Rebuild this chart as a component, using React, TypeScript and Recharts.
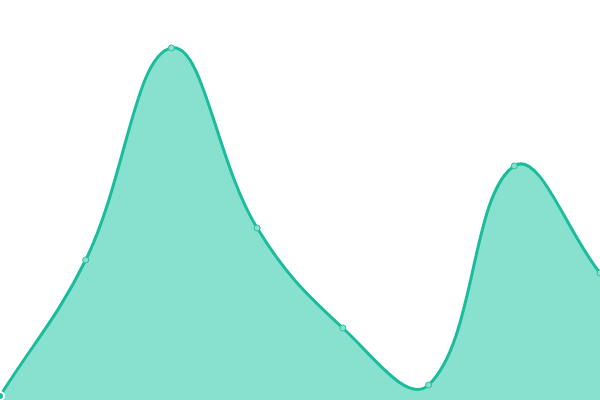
import React from "react";
import { AreaChart, Area, XAxis, YAxis } from "recharts";

const labels = ["A", "B", "C", "D", "E", "F", "G", "H"];
const values = [4, 140, 352, 172, 72, 15, 234, 127];

const data = labels.map((name, i) => ({ name, value: values[i] }));

// spline with distance-weighted control points (tension 0.4)
function splineCurve(tension: number) {
  return (ctx: any) => {
    let pts: number[][] = [];
    let line = NaN;
    const emit = () => {
      const n = pts.length;
      if (!n) return;
      if (line) ctx.lineTo(pts[0][0], pts[0][1]);
      else ctx.moveTo(pts[0][0], pts[0][1]);
      if (n === 1) return;
      const cps = pts.map((cur, i) => {
        const prev = pts[i - 1] || cur;
        const next = pts[i + 1] || cur;
        const d01 = Math.hypot(cur[0] - prev[0], cur[1] - prev[1]);
        const d12 = Math.hypot(next[0] - cur[0], next[1] - cur[1]);
        let s01 = d01 / (d01 + d12);
        let s12 = d12 / (d01 + d12);
        if (!isFinite(s01)) s01 = 0;
        if (!isFinite(s12)) s12 = 0;
        const fa = tension * s01;
        const fb = tension * s12;
        return {
          px: cur[0] - fa * (next[0] - prev[0]),
          py: cur[1] - fa * (next[1] - prev[1]),
          nx: cur[0] + fb * (next[0] - prev[0]),
          ny: cur[1] + fb * (next[1] - prev[1]),
        };
      });
      for (let i = 0; i < n - 1; i++) {
        ctx.bezierCurveTo(cps[i].nx, cps[i].ny, cps[i + 1].px, cps[i + 1].py, pts[i + 1][0], pts[i + 1][1]);
      }
    };
    return {
      areaStart() { line = 0; },
      areaEnd() { line = NaN; },
      lineStart() { pts = []; },
      point(x: number, y: number) { pts.push([+x, +y]); },
      lineEnd() {
        emit();
        if (line || (line !== 0 && pts.length === 1)) ctx.closePath();
        line = 1 - line;
      },
    };
  };
}

const curve = splineCurve(0.4);

export default function App() {
  return (
    <div style={{ position: "absolute", left: 0, top: 0, width: 600, height: 400 }}>
      <AreaChart width={600} height={400} data={data} margin={{ top: 0, right: 0, left: 0, bottom: 0 }}>
        <XAxis dataKey="name" hide />
        <YAxis domain={[0, 400]} hide />
        <Area
          type={curve as any}
          dataKey="value"
          stroke="#1abc9c"
          strokeWidth={3}
          fill="#88e0cf"
          fillOpacity={1}
          dot={{ r: 3, fill: "#88e0cf", stroke: "#2fbf9f", strokeWidth: 1 }}
          isAnimationActive={false}
        />
      </AreaChart>
    </div>
  );
}
